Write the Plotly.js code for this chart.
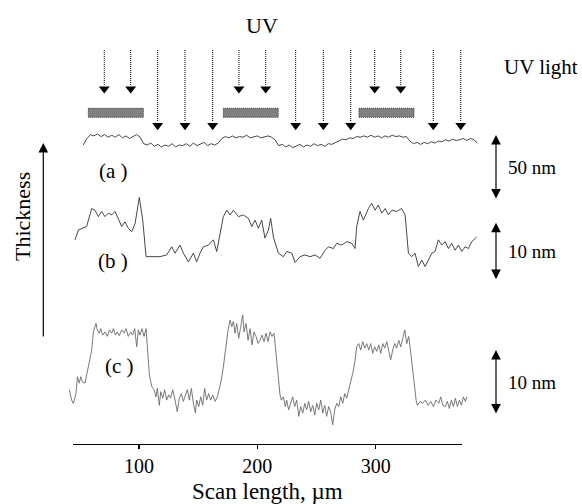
<!DOCTYPE html>
<html>
<head>
<meta charset="utf-8">
<script src="https://cdn.plot.ly/plotly-3.0.1.min.js"></script>
<style>html,body{margin:0;padding:0;background:#fff;}</style>
</head>
<body>
<div id="chart" style="width:582px;height:504px;"></div>
<script>
// ---------- data (µm along scan, nm thickness) ----------
const aX = [53,56,59,62,65,68,71,74,77,80,
  83,86,89,92,95,98,101,104,107,110,
  113,116,119,122,125,128,131,134,137,140,
  143,146,149,152,155,158,161,164,167,170,
  173,176,179,182,185,188,191,194,197,200,
  203,206,209,212,215,218,221,224,227,230,
  233,236,239,242,245,248,251,254,257,260,
  263,266,269,272,275,278,281,284,287,290,
  293,296,299,302,305,308,311,314,317,320,
  323,326,329,332,335,338,341,344,347,350,
  353,356,359,362,365,368,371,374,377,380,
  383,386];
const aY = [20,25,28,27,28.5,26.5,28,26,27.5,26,
  28,25.5,27,25,26.5,28,26,21,20,21.5,
  19,20.5,18.5,20,19,21,18.5,20,19.5,21,
  19,21.5,19.5,20.5,22,19.5,21,20,21.5,25,
  26.5,25.5,27,25.5,26.5,26,27.5,25.5,26.5,27,
  25.5,26.5,27,26,24,19.5,20.5,18.5,20,18,
  19.5,20.5,18.5,20,19,21,19.5,20.5,19,21,
  20.5,22,23,24.5,24,25.5,25,26.5,26,27,
  26,27.5,26,27,25.5,27,26,27.5,26.5,27,
  26,26.5,23,21,22,20.5,22,21,22.5,21.5,
  23,22.5,24,23,24.5,23.5,24,25,23.5,25,
  24,21.5];

const bX = [46.0,48.8,55.8,60.1,62.9,65.7,68.5,71.3,74.1,77.0,
  79.8,82.6,85.4,88.2,91.0,93.9,96.7,100.3,103.2,106.0,
  109.4,117.8,123.4,127.7,130.5,134.7,137.5,141.8,146.0,148.8,
  151.6,154.4,158.7,162.9,165.7,168.5,171.3,174.2,177.0,179.8,
  184.0,188.2,192.5,195.3,198.1,200.9,203.7,206.5,209.4,211.3,
  213.6,217.8,222.0,224.9,229.1,231.9,236.1,240.3,244.6,248.8,
  253.0,257.3,260.1,264.3,267.1,271.3,275.6,279.8,282.6,284.0,
  286.8,289.6,293.9,296.7,299.5,302.3,305.1,308.0,310.8,313.6,
  317.8,322.0,324.9,327.7,330.5,333.3,336.1,339.0,341.8,344.6,
  347.4,350.2,353.0,355.9,358.7,361.5,364.3,367.1,369.9,372.7,
  375.6,378.4,381.2,385.4];
const bY = [5.2,6.9,7.5,10.6,10.3,9.2,10.1,9.2,9.8,9.5,
  10.1,8.9,7.5,8.3,7.2,6.6,8.0,12.5,8.6,2.3,
  2.3,2.3,2.6,4.0,2.9,4.3,2.9,1.4,2.9,1.4,
  2.9,4.0,4.3,5.2,3.2,6.3,9.2,10.3,9.5,10.3,
  9.2,9.5,8.9,7.5,8.6,7.2,8.6,5.5,6.9,8.9,
  5.7,2.9,2.3,3.2,2.9,1.3,2.3,2.6,2.3,2.6,
  2.0,3.4,4.0,3.7,4.6,4.3,4.9,4.6,3.7,7.5,
  10.1,8.6,10.6,11.5,10.3,11.2,9.8,10.6,9.5,10.3,
  10.1,10.6,9.5,2.9,2.3,2.9,0.6,1.7,0.6,1.7,
  2.9,3.2,5.2,4.3,4.9,3.7,4.6,3.4,4.3,3.2,
  4.0,3.7,4.9,5.7];

const cX = [41.2,43.1,44.6,46.8,48.0,49.6,50.8,52.4,54.4,57.2,
  60.1,61.5,63.7,64.8,66.5,67.7,69.3,71.3,73.3,75.0,
  77.0,78.4,80.1,81.7,83.4,85.4,87.4,89.1,91.0,93.0,
  94.7,96.4,98.1,99.5,100.9,102.6,104.3,106.0,107.1,108.8,
  110.8,112.7,114.4,115.5,117.2,118.4,120.1,121.7,123.4,125.1,
  126.8,128.5,130.5,132.4,134.1,135.8,137.5,139.2,140.9,142.6,
  144.3,146.0,147.7,148.8,150.5,152.2,153.9,155.5,157.2,158.9,
  160.6,162.3,164.3,166.3,167.9,169.6,171.3,172.4,173.6,175.3,
  177.0,178.4,179.8,181.2,182.6,184.3,186.0,187.7,188.8,190.5,
  192.2,193.9,195.5,197.2,198.9,200.6,202.3,204.0,205.7,207.4,
  209.1,210.8,212.4,214.1,215.8,217.5,219.2,220.3,222.0,223.7,
  224.8,226.5,228.2,229.9,231.6,233.3,235.0,236.7,238.4,240.1,
  241.7,243.4,245.1,246.8,248.5,250.2,251.9,253.6,255.3,257.0,
  258.6,260.3,262.0,263.7,265.4,267.1,268.8,270.5,272.2,273.9,
  275.5,277.2,278.9,280.6,282.3,284.0,285.7,287.4,289.1,290.8,
  292.5,294.1,295.8,297.5,299.2,300.9,302.6,304.3,306.0,307.7,
  309.4,311.0,312.7,314.4,316.1,317.8,319.5,321.2,322.9,324.6,
  326.3,327.9,329.1,330.8,332.5,334.2,335.3,337.5,339.8,342.0,
  344.3,346.5,348.8,351.0,353.3,355.0,356.7,358.9,360.6,362.3,
  364.0,365.7,367.4,369.1,370.8,372.5,374.1,375.8,377.0];
const cY = [6.2,4.6,4.1,5.6,8.2,7.2,8.2,7.4,7.2,9.7,
  12.3,15.1,16.4,15.4,14.9,15.6,14.6,15.1,14.4,15.4,
  14.9,15.6,14.6,15.1,14.5,15.4,14.9,15.6,14.4,15.1,
  14.6,15.6,12.8,15.4,14.6,15.6,14.4,15.6,13.3,8.5,
  6.7,6.2,5.1,6.4,3.8,5.9,4.9,6.2,4.6,5.4,
  4.9,6.2,4.6,2.8,4.9,5.6,4.4,5.4,6.2,4.6,
  6.4,4.1,2.6,4.6,3.6,5.1,3.8,6.4,4.6,5.6,
  4.6,5.4,4.4,5.1,6.2,7.7,9.7,11.3,13.8,15.4,
  16.9,15.9,16.7,14.9,16.4,14.1,15.9,17.7,15.1,16.4,
  13.8,15.6,13.1,15.1,14.4,13.3,13.8,14.6,13.6,14.9,
  13.6,15.1,14.4,14.9,11.8,8.7,5.4,4.6,5.1,3.6,
  4.6,3.1,4.1,5.1,3.6,4.6,2.1,3.6,2.6,4.1,
  3.1,4.4,2.8,3.8,2.3,4.1,3.1,4.6,2.6,3.8,
  2.1,3.6,2.8,0.8,3.1,4.1,3.6,5.1,4.1,5.6,
  4.9,6.2,7.2,8.7,10.3,12.8,13.3,12.3,13.6,12.6,
  13.3,12.3,13.3,11.8,12.8,12.1,13.1,11.8,13.3,12.6,
  13.6,12.3,10.8,12.3,13.3,12.6,13.8,12.8,14.1,15.4,
  13.3,14.4,12.8,9.7,6.7,4.6,3.8,4.4,4.1,4.6,
  3.8,4.4,3.6,4.6,4.1,5.1,3.8,3.6,4.4,3.3,
  4.6,3.6,4.9,3.6,4.6,3.8,5.1,4.4,5.1];

// photomask stripes and UV rays (µm)
const maskStart = [57.2, 171.3, 285.9];
const maskEnd   = [103.7, 217.7, 332.4];
const uvBlocked = [70.7, 93.0, 184.5, 207.1, 299.2, 321.2];
const uvPassing = [115.8, 138.9, 162.3, 232.4, 255.8, 278.9, 348.7, 371.9];

const xTicks = [100, 200, 300];
const profileLabels = ['(a )', '(b )', '(c )'];
const scaleBarNm = [50, 10, 10];
const scaleBarText = ['50 nm', '10 nm', '10 nm'];

// ---------- layout helpers (pixels -> paper) ----------
const W = 582, H = 504;
const SERIF = 'Liberation Serif, Times New Roman, serif';
const PX0 = 20.6, PXK = 1.1835; // pixel = PX0 + PXK * µm
const px = p => p / W;
const py = p => 1 - p / H;

function band(b) {
  return {
    domain: [py(b.bottom), py(b.top)],
    range: [b.refVal - (b.bottom - b.refPx) / b.k, b.refVal + (b.refPx - b.top) / b.k],
    visible: false, anchor: 'x2', fixedrange: true
  };
}
const bands = [
  {top: 105, bottom: 215, refPx: 145, refVal: 20, k: 1.3},
  {top: 180, bottom: 290, refPx: 270, refVal: 0, k: 5.8},
  {top: 300, bottom: 440, refPx: 430, refVal: 0, k: 6.5}
];
const valAt = (b, p) => b.refVal + (b.refPx - p) / b.k;

const traces = [
  {x: [], y: [], type: 'scatter', xaxis: 'x', yaxis: 'y', showlegend: false, hoverinfo: 'skip'},
  {x: aX, y: aY, type: 'scatter', mode: 'lines', xaxis: 'x2', yaxis: 'y2',
   line: {color: '#333', width: 0.9}, showlegend: false},
  {x: bX, y: bY, type: 'scatter', mode: 'lines', xaxis: 'x2', yaxis: 'y3',
   line: {color: '#333', width: 0.9}, showlegend: false},
  {x: cX, y: cY, type: 'scatter', mode: 'lines', xaxis: 'x2', yaxis: 'y4',
   line: {color: '#6a6a6a', width: 0.9}, showlegend: false},
  {x: uvBlocked, y: uvBlocked.map(() => 88.8), type: 'scatter', mode: 'markers',
   xaxis: 'x2', yaxis: 'y5', marker: {symbol: 'triangle-down', size: 9.5, color: '#000'},
   showlegend: false},
  {x: uvPassing, y: uvPassing.map(() => 125.5), type: 'scatter', mode: 'markers',
   xaxis: 'x2', yaxis: 'y5', marker: {symbol: 'triangle-down', size: 9.5, color: '#000'},
   showlegend: false}
];

const shapes = [];
uvBlocked.forEach(u => shapes.push({type: 'line', xref: 'x2', yref: 'paper',
  x0: u, x1: u, y0: py(50), y1: py(85), line: {color: '#000', width: 1, dash: '1px,1px'}}));
uvPassing.forEach(u => shapes.push({type: 'line', xref: 'x2', yref: 'paper',
  x0: u, x1: u, y0: py(50), y1: py(122), line: {color: '#000', width: 1, dash: '1px,1px'}}));
maskStart.forEach((s, i) => shapes.push({type: 'rect', xref: 'x2', yref: 'paper',
  x0: s, x1: maskEnd[i], y0: py(117.3), y1: py(108.3),
  fillcolor: '#808080', line: {color: '#333', width: 1, dash: '1px,1px'}}));

const txt = (t, x, y, size, extra) => Object.assign({text: t, x: px(x), y: py(y),
  xref: 'paper', yref: 'paper', showarrow: false, xanchor: 'center', yanchor: 'middle',
  font: {family: SERIF, size: size, color: '#000'}}, extra || {});

const annotations = [
  txt('UV', 262, 25, 22),
  txt('UV light', 541, 67, 21),
  txt(profileLabels[0], 113, 171, 21),
  txt(profileLabels[1], 113, 261, 21),
  txt(profileLabels[2], 119, 366, 21),
  txt('Thickness', 22, 217, 22, {textangle: -90}),
  // Thickness arrow
  {xref: 'paper', yref: 'paper', x: px(43.3), y: py(143), axref: 'pixel', ayref: 'pixel',
   ax: 0, ay: 195, text: '', showarrow: true, arrowhead: 2, arrowsize: 1.6,
   arrowwidth: 1.2, arrowcolor: '#000', standoff: 0}
];
const barTops = [135, 222.7, 350];
const yRefs = ['y2', 'y3', 'y4'];
bands.forEach((b, i) => {
  const topV = valAt(b, barTops[i]);
  annotations.push({xref: 'paper', yref: yRefs[i], x: px(496), y: topV,
    axref: 'pixel', ayref: yRefs[i], ax: 0, ay: topV - scaleBarNm[i],
    text: '', showarrow: true, arrowhead: 2, arrowside: 'end+start', arrowsize: 1.6,
    arrowwidth: 1.2, arrowcolor: '#000', standoff: 0, startstandoff: 0});
  annotations.push(Object.assign(txt(scaleBarText[i], 506, 0, 19, {xanchor: 'left'}),
    {yref: yRefs[i], y: topV - scaleBarNm[i] / 2}));
});

const layout = {
  width: W, height: H,
  margin: {l: 0, r: 0, t: 0, b: 0},
  paper_bgcolor: '#fff', plot_bgcolor: 'rgba(0,0,0,0)',
  showlegend: false,
  font: {family: SERIF, color: '#000'},
  xaxis: {
    domain: [px(72.7), px(462)],
    range: [(72.7 - PX0) / PXK, (462 - PX0) / PXK],
    anchor: 'y', showline: true, linecolor: '#000', linewidth: 1.5,
    ticks: 'outside', ticklen: 4, tickwidth: 1.5, tickcolor: '#000',
    tickvals: xTicks, tickfont: {family: SERIF, size: 20, color: '#000'},
    showgrid: false, zeroline: false, fixedrange: true,
    title: {text: 'Scan length, µm', font: {family: SERIF, size: 23, color: '#000'}, standoff: 7}
  },
  yaxis: {domain: [py(443.5), 1], range: [0, 1], visible: false, fixedrange: true, anchor: 'x'},
  xaxis2: {domain: [0, 1], range: [-PX0 / PXK, (W - PX0) / PXK], visible: false,
    anchor: 'y2', fixedrange: true},
  yaxis2: band(bands[0]),
  yaxis3: band(bands[1]),
  yaxis4: band(bands[2]),
  yaxis5: {domain: [0, 1], range: [H, 0], visible: false, anchor: 'x2', fixedrange: true},
  shapes: shapes,
  annotations: annotations
};

Plotly.newPlot('chart', traces, layout, {displayModeBar: false, staticPlot: true});
</script>
</body>
</html>
